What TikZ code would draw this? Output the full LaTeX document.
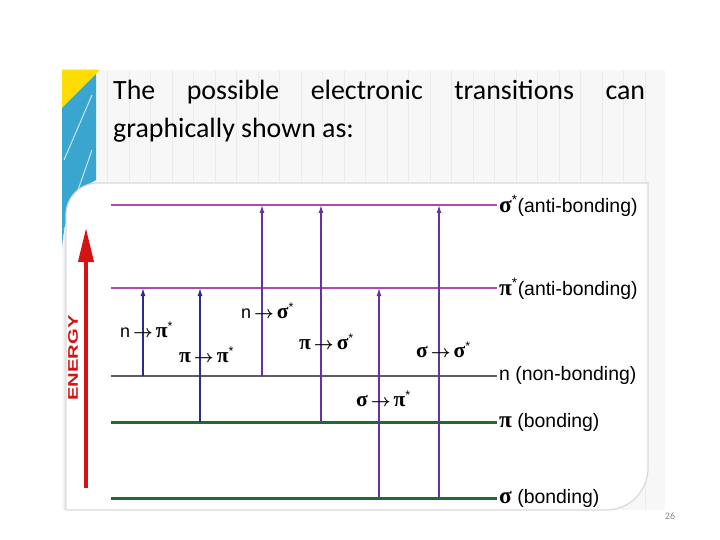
\documentclass[tikz,border=0pt]{standalone}
\usepackage{amsmath}
\usepackage{fontspec}
\setmainfont{Carlito}
\newfontfamily\labfont{Liberation Sans}
\newfontfamily\grkfont{Liberation Serif}
\usetikzlibrary{arrows.meta}

\definecolor{lvmag}{HTML}{B04CB0}
\definecolor{lvgray}{HTML}{5E5E5E}
\definecolor{lvgreen}{HTML}{1E6B2E}
\definecolor{trnavy}{HTML}{2A2A90}
\definecolor{trpurple}{HTML}{6332A6}
\definecolor{energyred}{HTML}{D41414}
\definecolor{stripblue}{HTML}{3AA6CF}

\newcommand{\gk}[1]{\scalebox{1.2}{\grkfont\bfseries #1}}
\newcommand{\upst}{\textsuperscript{*}}
\newcommand{\tto}{\,$\boldsymbol{\rightarrow}$\,}

\begin{document}
\begin{tikzpicture}[
    x=1bp, y=-1bp,
    gridline/.style={draw=black!8, line width=0.5bp},
    card/.style={fill=white, draw=black!15, line width=1.2bp},
    antibond/.style={draw=lvmag, line width=1.5bp},
    nonbond/.style={draw=lvgray, line width=1.5bp},
    bond/.style={draw=lvgreen, line width=3bp},
    lvlab/.style={anchor=west, inner sep=2bp, font=\labfont\fontsize{19.5}{21}\selectfont},
    trlab/.style={anchor=base west, inner sep=0pt, font=\labfont\fontsize{18}{20}\selectfont},
    navyarrow/.style={-{Latex[length=8bp,width=5bp]}, trnavy, line width=1.3bp},
    purplearrow/.style={-{Latex[length=8bp,width=5bp]}, trpurple, line width=1.3bp},
    energy/.style={-{Triangle[length=34bp,width=15bp]}, energyred, line width=4bp}
  ]
    \useasboundingbox (0,0) rectangle (720,540);
    \fill[white] (0,0) rectangle (720,540);

    % slide background
    \fill[black!3] (62,70) rectangle (665,510);
    \begin{scope}
      \clip (62,70) rectangle (665,510);
      \draw[gridline, step=21.5] (62,70) grid (665,510);
    \end{scope}
    \fill[stripblue] (62,70) -- (96,70) -- (96,180) .. controls (76,190) and (64,215) .. (62,248) -- cycle;
    \draw[white!70!stripblue, line width=1bp] (64,160) -- (92,95);
    \draw[white!70!stripblue, line width=1bp] (64,230) -- (92,150);
    \fill[yellow!80!orange] (62,70) -- (100,70) -- (62,108) -- cycle;
    \path[card] (66,510) [rounded corners=32] -- (66,183) [sharp corners] -- (648,183)
      [rounded corners=42] -- (648,510) [sharp corners] -- cycle;

    % heading
    \node[anchor=base west, inner sep=0pt, font=\fontsize{28}{34}\selectfont] (head1) at (113,100)
      {\makebox[532bp][s]{The possible electronic transitions can}};
    \node[anchor=base west, inner sep=0pt, font=\fontsize{28}{34}\selectfont] (head2) at (113,138)
      {graphically shown as:};

    % energy levels
    \node[lvlab] (ss) at (497,206) {\gk{σ}\upst(anti-bonding)};
    \node[lvlab] (ps) at (497,289) {\gk{π}\upst(anti-bonding)};
    \node[lvlab] (nb) at (497,375) {n (non-bonding)};
    \node[lvlab] (pb) at (497,422) {\gk{π} (bonding)};
    \node[lvlab] (sb) at (497,498) {\gk{σ} (bonding)};

    \coordinate (ssL) at (111,205);
    \coordinate (psL) at (111,288);
    \coordinate (nbL) at (111,376);
    \coordinate (pbL) at (111,422);
    \coordinate (sbL) at (111,498);

    \draw[antibond] (ssL) -- (ss.west |- ssL);
    \draw[antibond] (psL) -- (ps.west |- psL);
    \draw[nonbond] (nbL) -- (nb.west |- nbL);
    \draw[bond] (pbL) -- (pb.west |- pbL);
    \draw[bond] (sbL) -- (sb.west |- sbL);

    % transitions
    \coordinate (x1) at (143,0);
    \coordinate (x2) at (200,0);
    \coordinate (x3) at (262,0);
    \coordinate (x4) at (321,0);
    \coordinate (x5) at (379,0);
    \coordinate (x6) at (439,0);

    \draw[navyarrow] (x1 |- nbL) -- (x1 |- psL);
    \draw[navyarrow] (x2 |- pbL) -- (x2 |- psL);
    \draw[purplearrow] (x3 |- nbL) -- (x3 |- ssL);
    \draw[purplearrow] (x4 |- pbL) -- (x4 |- ssL);
    \draw[purplearrow] (x5 |- sbL) -- (x5 |- psL);
    \draw[purplearrow] (x6 |- sbL) -- (x6 |- ssL);

    \node[trlab] (t1) at (120,337) {n\tto\gk{π}\upst};
    \node[trlab] (t2) at (179,362) {\gk{π}\tto\gk{π}\upst};
    \node[trlab] (t3) at (241,318) {n\tto\gk{σ}\upst};
    \node[trlab] (t4) at (299,349) {\gk{π}\tto\gk{σ}\upst};
    \node[trlab] (t5) at (416,357) {\gk{σ}\tto\gk{σ}\upst};
    \node[trlab] (t6) at (356,406) {\gk{σ}\tto\gk{π}\upst};

    % energy axis
    \coordinate (eBot) at (86,488);
    \coordinate (eTop) at (86,228);
    \draw[energy] (eBot) -- (eTop);
    \node[rotate=90, text=energyred, font=\labfont\bfseries\fontsize{14}{16}\selectfont] (elab) at (73,358)
      {\scalebox{1.45}[1]{ENERGY}};

    \node[text=black!45, font=\fontsize{10}{12}\selectfont] (pg) at (670,516) {26};
\end{tikzpicture}
\end{document}
